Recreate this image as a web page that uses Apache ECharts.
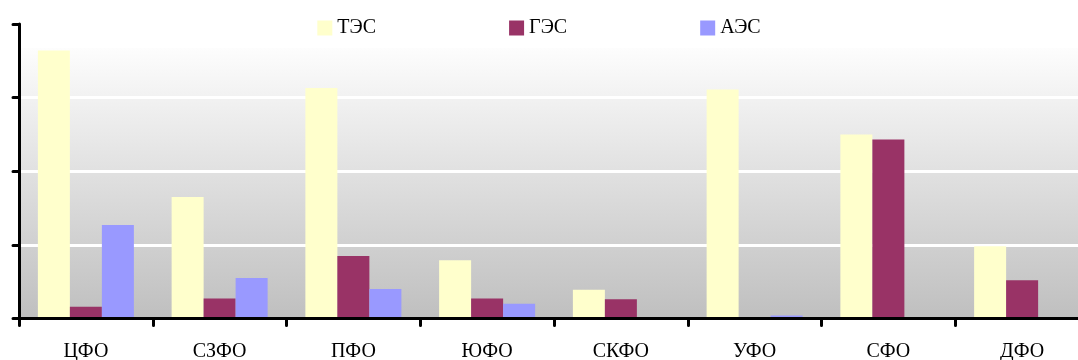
<!DOCTYPE html>
<html>
<head>
<meta charset="utf-8">
<script src="https://cdn.jsdelivr.net/npm/echarts@6/dist/echarts.min.js"></script>
<style>html,body{margin:0;padding:0;background:#fff}#c{width:1078px;height:360px}</style>
</head>
<body>
<div id="c"></div>
<script>
const categories = ['ЦФО', 'СЗФО', 'ПФО', 'ЮФО', 'СКФО', 'УФО', 'СФО', 'ДФО'];
const seriesNames = ['ТЭС', 'ГЭС', 'АЭС'];
const tes = [3.64, 1.65, 3.13, 0.79, 0.39, 3.11, 2.50, 0.98];
const ges = [0.16, 0.27, 0.85, 0.27, 0.26, 0, 2.43, 0.52];
const aes = [1.27, 0.55, 0.40, 0.20, 0, 0.04, 0, 0];
const colors = ['#FFFFCC', '#993366', '#9999FF'];

const font = '"Liberation Serif", "Times New Roman", serif';
const chart = echarts.init(document.getElementById('c'), null, {renderer: 'canvas'});
const gridTop = 24, gridBottom = 41.5, gridLeft = 19;
const option = {
  animation: false,
  textStyle: {fontFamily: font},
  color: colors,
  legend: {
    top: 18, left: 'center', padding: 0,
    itemWidth: 15, itemHeight: 15, itemGap: 133,
    icon: 'rect',
    textStyle: {fontFamily: font, fontSize: 20, color: '#000', padding: [2, 0, 0, 0]},
    data: seriesNames
  },
  graphic: [{
    type: 'rect', z: -10, silent: true,
    shape: {x: gridLeft, y: 48, width: 1078 - gridLeft, height: 360 - gridBottom - 48},
    style: {fill: new echarts.graphic.LinearGradient(0, 0, 0, 1, [
      {offset: 0, color: '#fdfdfd'}, {offset: 1, color: '#bfbfbf'}
    ])}
  }],
  grid: {left: gridLeft, width: 1070, top: gridTop, bottom: gridBottom, containLabel: false, outerBoundsMode: 'none'},
  xAxis: {
    type: 'category', data: categories, boundaryGap: true, z: 5,
    axisLine: {lineStyle: {color: '#000', width: 3}},
    axisTick: {show: true, length: 7, lineStyle: {color: '#000', width: 3, cap: 'round'}},
    axisLabel: {fontFamily: font, fontSize: 20, color: '#000', margin: 23},
    splitLine: {show: false}
  },
  yAxis: {
    type: 'value', min: 0, max: 4, interval: 1,
    axisLine: {show: true, lineStyle: {color: '#000', width: 3}},
    axisTick: {show: true, length: 6, lineStyle: {color: '#000', width: 3, cap: 'round'}},
    axisLabel: {show: false},
    splitLine: {show: true, lineStyle: {color: '#ffffff', width: 3}}
  },
  series: [
    {name: seriesNames[0], type: 'bar', data: tes, barWidth: 32, barGap: '0%'},
    {name: seriesNames[1], type: 'bar', data: ges, barWidth: 32, barGap: '0%'},
    {name: seriesNames[2], type: 'bar', data: aes, barWidth: 32, barGap: '0%'}
  ]
};
chart.setOption(option);
</script>
</body>
</html>
